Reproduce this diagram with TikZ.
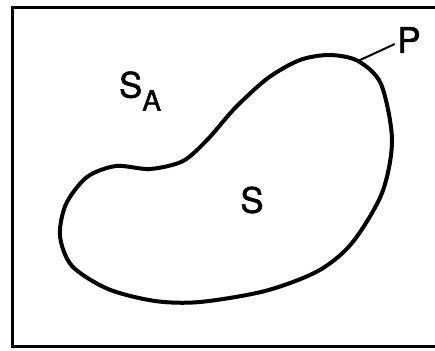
\documentclass[tikz,border=0pt]{standalone}
\usepackage{fontspec}
\setmainfont{TeX Gyre Heros}
\newfontfamily\lettering[FakeBold=1.5]{TeX Gyre Heros}
\usetikzlibrary{calc}

\begin{document}
\begin{tikzpicture}[x=1pt,y=-1pt]
        \useasboundingbox (0,0) rectangle (435,350);
        \clip (0,0) rectangle (435,350);
        % frame (its right edge lies past the page)
        \draw [line width=3pt] (12,8) rectangle (460,346);
        % points on the boundary
        \coordinate (B1) at (330,55);
        \coordinate (Pt) at (358,61);
        \coordinate (B2) at (381,84);
        \coordinate (B3) at (392,140);
        \coordinate (B4) at (382,193);
        \coordinate (B5) at (352,243);
        \coordinate (B6) at (318,271);
        \coordinate (B7) at (265,291);
        \coordinate (B8) at (200,302);
        \coordinate (B9) at (155,301);
        \coordinate (B10) at (108,289);
        \coordinate (B11) at (72,266);
        \coordinate (B12) at (60,236);
        \coordinate (B13) at (66,204);
        \coordinate (B14) at (87,177);
        \coordinate (B15) at (116,166);
        \coordinate (B16) at (150,169);
        \coordinate (B17) at (183,161);
        \coordinate (B18) at (208,139);
        \coordinate (B19) at (235,108);
        \coordinate (B20) at (268,78);
        \coordinate (B21) at (300,60);
        \draw [line width=4pt] plot [smooth cycle, tension=0.5] coordinates {(B1) (Pt) (B2) (B3) (B4) (B5) (B6) (B7) (B8) (B9) (B10) (B11) (B12) (B13) (B14) (B15) (B16) (B17) (B18) (B19) (B20) (B21)};
        % labels
        \node (SA) at (140,91) {\lettering\fontsize{35}{40}\selectfont S\raisebox{-13pt}{\fontsize{28}{30}\selectfont A}};
        \node (S) at (252,200) {\lettering\fontsize{35}{40}\selectfont S};
        \node (P) at (409,40) {\lettering\fontsize{35}{40}\selectfont P};
        \draw [line width=2pt] (Pt) -- ($(P.west)+(1,4)$);
\end{tikzpicture}
\end{document}
